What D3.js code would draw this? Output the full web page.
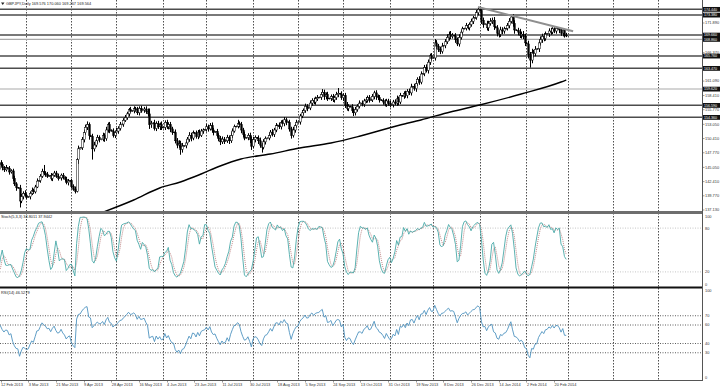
<!DOCTYPE html>
<html><head><meta charset="utf-8">
<script src="https://cdn.jsdelivr.net/npm/d3@7"></script>
<style>
html,body{margin:0;padding:0;background:#fff;overflow:hidden;}
svg{display:block;}
text{font-family:"Liberation Sans",Arial,sans-serif;}
</style></head><body>
<svg id="chart" width="720" height="387"></svg>
<script>
// ---------------- DATA ----------------
const symbolTitle = "GBPJPY,Daily 169.576 170.060 169.267 169.564";
const stochTitle = "Stoch(5,3,3) 34.8011 37.9442";
const rsiTitle = "RSI(14) 46.5279";
const firstBarDate = "2013-01-24";   // first (warm-up) bar, Sun-Fri daily bars
const warmupBars = 16;               // bars before the first visible bar (12 Feb 2013)

const closes = [
 143.8,143.3,143.4,142.8,143.0,143.5,143.7,145.6,145.7,145.2,146.9,145.4,145.1,144.6,144.7,145.9,
 145.6,145.0,144.6,145.0,144.9,144.2,144.4,143.0,142.0,141.3,141.2,138.8,139.6,140.2,139.9,139.5,
 139.6,140.2,140.8,140.5,141.4,142.5,142.6,143.4,144.3,144.0,143.8,143.4,143.5,143.0,143.6,144.0,
 143.4,143.0,143.1,143.6,143.1,142.8,142.2,142.5,142.6,141.5,141.0,140.6,146.5,148.5,148.7,150.2,
 151.5,152.5,153.0,151.0,150.8,148.5,149.2,150.0,150.6,150.2,150.3,151.0,150.4,152.0,153.0,152.0,
 151.8,151.0,151.5,151.8,152.3,153.0,153.1,153.8,154.3,155.0,155.8,155.5,155.6,156.0,155.8,155.2,
 156.0,155.6,155.7,155.9,155.4,155.0,153.0,153.2,153.3,152.3,153.2,152.6,153.0,152.4,152.5,153.4,
 152.6,153.0,152.2,151.6,151.5,150.0,149.2,149.5,148.4,149.0,149.1,149.6,150.3,151.0,150.5,151.5,
 151.4,150.8,151.6,151.0,151.8,152.0,152.1,152.6,152.2,152.8,152.0,151.6,151.7,151.0,150.4,149.8,
 150.3,149.9,150.0,150.6,150.0,151.0,151.8,152.6,152.7,153.2,153.0,152.0,151.2,150.5,150.6,151.0,
 150.2,149.0,150.2,150.6,150.5,150.0,149.2,148.8,149.8,150.4,150.5,151.0,151.6,151.2,152.0,152.8,
 152.9,152.6,153.4,153.2,153.9,153.5,153.4,152.2,151.0,152.0,152.8,153.4,153.5,154.6,155.2,155.6,
 156.4,156.0,156.1,157.0,157.5,157.2,157.8,158.0,158.1,158.6,159.0,158.2,158.6,157.8,157.9,158.2,
 157.6,158.0,158.6,158.8,158.7,158.0,158.4,156.6,156.0,156.4,156.3,155.6,155.2,155.8,156.4,157.0,
 157.0,156.8,157.4,157.6,158.0,157.5,157.6,158.2,158.9,158.2,158.0,157.6,157.5,157.2,156.8,157.4,
 157.0,156.6,156.7,157.2,157.0,157.8,157.2,158.4,158.3,158.8,158.4,159.2,158.9,160.0,160.1,159.7,
 160.6,161.4,160.9,162.4,162.5,163.6,163.1,164.6,165.8,165.3,165.4,168.2,167.6,167.0,166.6,167.6,
 167.7,168.4,169.2,169.8,169.4,169.6,169.5,168.8,168.0,169.2,170.2,170.8,170.9,171.4,171.0,171.6,
 172.2,172.8,172.9,173.8,174.4,174.2,172.4,171.6,171.7,171.0,171.8,172.2,172.4,171.2,171.0,170.0,
 169.8,170.6,170.4,170.8,170.9,171.4,172.2,173.0,171.8,170.6,170.5,170.2,169.6,169.8,169.4,168.2,
 168.0,166.0,165.0,166.4,166.2,167.0,167.1,168.2,168.8,169.4,169.0,169.8,169.9,170.4,170.2,170.8,
 170.4,170.9,170.9,170.6,170.0,170.6,169.58,169.564
];
const wickUp = [
 0.4,0.3,0.1,0.4,0.5,0.3,0.4,0.6,0.1,0.5,0.7,0.4,0.3,0.5,0.1,0.4,
 0.5,0.4,0.3,0.5,0.1,0.4,0.3,0.4,0.5,0.3,0.1,0.6,0.5,0.4,0.6,0.3,
 0.1,0.4,0.5,0.3,0.4,0.5,0.1,0.4,0.5,1.2,0.3,0.4,0.1,0.5,0.3,0.4,
 0.4,0.5,0.1,0.3,0.4,0.3,0.5,0.4,0.1,0.3,0.4,0.5,0.3,0.6,0.1,0.5,
 0.6,0.5,0.6,0.4,0.1,0.5,0.6,0.4,0.5,0.4,0.1,0.5,0.4,0.6,0.4,0.5,
 0.1,0.5,0.4,0.6,0.4,0.5,0.1,0.4,0.5,0.4,0.3,0.5,0.1,0.4,0.3,0.5,
 0.4,0.5,0.1,0.4,0.5,0.6,1.0,0.5,0.1,0.6,0.4,0.5,0.4,0.6,0.1,0.4,
 0.5,0.4,0.5,0.4,0.1,0.6,0.5,0.6,0.5,0.6,0.1,0.5,0.4,0.6,0.5,0.4,
 0.1,0.5,0.4,0.5,0.4,0.3,0.1,0.5,0.4,0.5,0.6,0.4,0.1,0.5,0.4,0.5,
 0.5,0.4,0.1,0.5,0.4,0.6,0.5,0.4,0.1,0.7,0.4,0.5,0.4,0.5,0.1,0.4,
 0.5,0.6,0.5,0.4,0.1,0.5,0.6,0.4,0.5,0.4,0.1,0.5,0.4,0.6,0.4,0.5,
 0.1,0.5,0.4,0.5,0.5,0.4,0.1,0.5,0.4,0.6,0.4,0.5,0.1,0.4,0.5,0.4,
 0.5,0.4,0.1,0.5,0.4,0.5,0.4,0.5,0.1,0.4,0.6,0.5,0.4,0.5,0.1,0.4,
 0.5,0.4,0.5,1.0,0.1,0.5,0.4,0.5,0.6,0.4,0.1,0.5,0.4,0.5,0.4,0.5,
 0.1,0.5,0.4,0.5,0.4,0.5,0.1,0.5,0.4,0.5,0.4,0.5,0.1,0.4,0.5,0.4,
 0.4,0.5,0.1,0.4,0.5,0.6,0.4,0.5,0.1,0.4,0.5,0.4,0.5,0.6,0.1,0.5,
 0.5,0.4,0.6,0.5,0.1,0.5,0.6,0.5,0.4,0.5,0.1,0.7,0.5,0.4,0.5,0.6,
 0.1,0.5,0.6,0.5,0.6,0.4,0.1,0.5,0.4,0.6,0.5,0.4,0.1,0.5,0.3,0.4,
 0.5,0.4,0.1,0.5,0.46,0.2,0.2,0.5,0.1,0.6,0.5,0.6,0.5,0.6,0.1,0.5,
 0.5,0.6,0.5,0.4,0.1,0.5,0.6,0.3,0.5,0.6,0.1,0.5,0.6,0.5,0.6,0.5,
 0.1,0.6,0.5,0.7,0.5,0.6,0.1,0.5,0.6,0.5,0.6,0.5,0.1,0.5,0.6,0.3,
 0.3,0.2,0.1,0.1,0.3,0.1,0.2,0.48
];
const wickDown = [
 0.3,0.5,0.1,0.4,0.3,0.4,0.3,0.2,0.1,0.4,0.3,0.6,0.4,0.3,0.1,0.3,
 0.4,0.5,0.4,0.3,0.1,0.5,0.3,0.5,0.4,0.6,0.1,1.2,0.4,0.5,0.3,0.4,
 0.1,0.5,0.3,0.4,0.3,0.2,0.1,0.4,0.3,0.4,0.5,0.3,0.1,0.4,0.5,0.3,
 0.3,0.4,0.1,0.5,0.3,0.4,0.3,0.5,0.1,0.4,0.3,0.4,0.2,0.8,0.1,0.4,
 0.5,0.4,0.5,0.8,0.1,2.0,0.5,0.4,0.6,0.5,0.1,0.4,0.6,0.4,0.5,0.6,
 0.1,0.4,0.5,0.3,0.5,0.4,0.1,0.5,0.3,0.4,0.5,0.3,0.1,0.5,0.4,0.4,
 0.5,0.4,0.1,0.5,0.4,0.5,0.8,0.6,0.1,0.4,0.5,0.4,0.6,0.4,0.1,0.5,
 0.4,0.5,0.6,0.5,0.1,0.5,0.6,0.5,1.0,0.6,0.1,0.5,0.4,0.5,0.6,0.4,
 0.1,0.4,0.5,0.4,0.3,0.5,0.1,0.4,0.5,0.3,0.5,0.6,0.1,0.4,0.5,0.6,
 0.4,0.5,0.1,0.4,0.6,0.4,0.5,0.3,0.1,0.4,0.5,0.6,0.5,0.4,0.1,0.5,
 0.6,0.7,0.4,0.5,0.1,0.6,0.5,1.0,0.4,0.5,0.1,0.4,0.5,0.4,0.5,0.4,
 0.1,0.4,0.5,0.4,0.5,0.6,0.1,0.5,0.6,0.4,0.5,0.4,0.1,0.5,0.4,0.5,
 0.4,0.5,0.1,0.4,0.5,0.4,0.5,0.4,0.1,0.5,0.4,0.6,0.5,0.4,0.1,0.5,
 0.4,0.5,0.4,0.5,0.1,0.4,0.6,0.5,0.4,0.5,0.1,0.4,0.6,0.5,0.4,0.4,
 0.1,0.4,0.5,0.4,0.5,0.4,0.1,0.4,0.5,0.6,0.4,0.5,0.1,0.5,0.4,0.5,
 0.5,0.4,0.1,0.5,0.4,0.5,0.6,0.4,0.1,0.5,0.4,0.5,0.4,0.5,0.1,0.4,
 0.6,0.4,0.5,0.4,0.1,0.5,0.4,0.6,0.5,0.4,0.1,0.5,0.6,0.5,0.5,0.4,
 0.1,0.5,0.4,0.6,0.5,0.4,0.1,0.6,0.4,0.5,0.4,0.5,0.1,0.4,0.3,0.5,
 0.4,0.5,0.1,0.4,0.5,0.2,0.7,0.6,0.1,0.5,0.6,0.4,0.5,0.6,0.1,0.6,
 0.6,0.5,0.6,0.5,0.1,0.4,0.5,0.4,0.6,0.7,0.1,0.6,0.5,0.6,0.5,0.6,
 0.1,0.7,1.4,0.6,0.7,0.5,0.1,0.6,0.5,0.6,0.5,0.4,0.1,0.6,0.5,0.4,
 0.4,0.5,0.1,0.6,0.5,0.6,0.4,0.3
];

const tickLabels = ["12 Feb 2013","3 Mar 2013","21 Mar 2013","9 Apr 2013","28 Apr 2013","16 May 2013",
 "4 Jun 2013","23 Jun 2013","11 Jul 2013","30 Jul 2013","18 Aug 2013","5 Sep 2013","24 Sep 2013",
 "13 Oct 2013","31 Oct 2013","19 Nov 2013","8 Dec 2013","26 Dec 2013","14 Jan 2014","2 Feb 2014","20 Feb 2014"];
const barsPerTick = 16;

const priceTicks = [137.130,139.770,142.410,145.050,147.770,150.410,153.050,155.770,158.410,161.090,163.730,166.370,169.010,171.890];
const darkLevels = [174.440,173.380,169.660,165.760,163.470,156.590,154.360];
const lightLevels = [168.860,159.620];

// 200-day moving average, read at visible bar indices
const maIndex = [58,77,92,104,116,127,139,156,173,191,208,231,243,260,277,301,324,327];
const maValue = [136.57,138.99,141.22,142.34,143.82,145.31,146.61,147.54,148.66,149.59,150.89,152.93,153.86,155.35,156.65,158.69,160.92,161.30];

// falling trendline (visible bar index, price)
const trendIndex = [276,331];
const trendValue = [174.86,170.35];

const stochLevels = [80,20];
const stochAxis = [100,80,20,0];
const rsiLevels = [70,60,40,30];
const rsiAxis = [100,70,60,40,30,0];

// ---------------- LAYOUT ----------------
const svg = d3.select("#chart");
const plotR = 702;
const x = d3.scaleLinear().domain([0,400]).range([0.5,692.5]);
const y = d3.scaleLinear().domain([137.13,171.89]).range([210,23]);
const yS = d3.scaleLinear().domain([0,100]).range([286.5,213.5]);
const yR = d3.scaleLinear().domain([0,100]).range([380.5,288]);
const FS = 3.9;

const defs = svg.append("defs");
defs.append("clipPath").attr("id","cMain").append("rect").attr("x",0).attr("y",0).attr("width",plotR).attr("height",211);
defs.append("clipPath").attr("id","cStoch").append("rect").attr("x",0).attr("y",214).attr("width",plotR).attr("height",72);
defs.append("clipPath").attr("id","cRsi").append("rect").attr("x",0).attr("y",289).attr("width",plotR).attr("height",91);

// dates of bars (Sun-Fri) including future slots
const dates = [];
{ const d = new Date(firstBarDate+"T00:00:00Z");
  while (dates.length < closes.length + 120) { if (d.getUTCDay() !== 6) dates.push(new Date(d)); d.setUTCDate(d.getUTCDate()+1); } }
const xi = k => x(k - warmupBars);

// month separators
const monthStarts = [];
for (let k=1;k<dates.length;k++) if (dates[k].getUTCMonth() !== dates[k-1].getUTCMonth()) monthStarts.push(k);
svg.append("g").selectAll("line").data(monthStarts.filter(k => xi(k) > 0 && xi(k) < plotR)).join("line")
  .attr("x1",k=>Math.round(xi(k))+0.5).attr("x2",k=>Math.round(xi(k))+0.5)
  .attr("y1",0).attr("y2",380).attr("stroke","#222").attr("stroke-width",0.8).attr("stroke-dasharray","1.5,1.5");

// ---------- MAIN PANEL ----------
const gMain = svg.append("g").attr("clip-path","url(#cMain)");
gMain.selectAll("line.dl").data(darkLevels).join("line").attr("class","dl")
  .attr("x1",0).attr("x2",plotR).attr("y1",d=>y(d)).attr("y2",d=>y(d)).attr("stroke","#4d4d4d").attr("stroke-width",1.5);
gMain.selectAll("line.ll").data(lightLevels).join("line").attr("class","ll")
  .attr("x1",0).attr("x2",plotR).attr("y1",d=>y(d)).attr("y2",d=>y(d)).attr("stroke","#a9a9a9").attr("stroke-width",1.2);

const bars = closes.map((c,k) => { const o = k>0 ? closes[k-1] : c;
  return {k, o, c, h: Math.max(o,c)+wickUp[k], l: Math.min(o,c)-wickDown[k]}; });
const vis = bars.filter(b => xi(b.k) > -3);
gMain.selectAll("line.wick").data(vis).join("line").attr("class","wick")
  .attr("x1",b=>Math.round(xi(b.k))+0.5).attr("x2",b=>Math.round(xi(b.k))+0.5)
  .attr("y1",b=>y(b.h)).attr("y2",b=>y(b.l)).attr("stroke","#000").attr("stroke-width",1);
gMain.selectAll("rect.body").data(vis).join("rect").attr("class","body")
  .attr("x",b=>Math.round(xi(b.k))-0.3).attr("width",1.6)
  .attr("y",b=>y(Math.max(b.o,b.c))).attr("height",b=>Math.max(0.6,Math.abs(y(b.o)-y(b.c))))
  .attr("fill",b=>b.c>=b.o?"#fff":"#000").attr("stroke","#000").attr("stroke-width",0.5);

// moving average
gMain.append("path").datum(maIndex.map((v,i)=>[v,maValue[i]]))
  .attr("d",d3.line().x(d=>x(d[0])).y(d=>y(d[1])).curve(d3.curveMonotoneX))
  .attr("fill","none").attr("stroke","#000").attr("stroke-width",1.4);
// trendline
gMain.append("path").datum(trendIndex.map((v,i)=>[v,trendValue[i]]))
  .attr("d",d3.line().x(d=>x(d[0])).y(d=>y(d[1])))
  .attr("fill","none").attr("stroke","#8f8f8f").attr("stroke-width",2);

// title
svg.append("path").attr("d","M1,2.5 L4.5,2.5 L2.75,5 Z").attr("fill","#222");
svg.append("text").attr("x",6).attr("y",5).attr("font-size",FS).attr("fill","#222").text(symbolTitle);

// ---------- INDICATORS ----------
const N = bars.length;
const main = new Array(N).fill(null), signal = new Array(N).fill(null);
const LL = [], HH = [];
for (let k=0;k<N;k++){ const s=Math.max(0,k-4); let lo=Infinity,hi=-Infinity;
  for(let j=s;j<=k;j++){lo=Math.min(lo,bars[j].l);hi=Math.max(hi,bars[j].h);} LL[k]=lo;HH[k]=hi; }
for (let k=6;k<N;k++){ let num=0,den=0; for(let j=k-2;j<=k;j++){num+=bars[j].c-LL[j];den+=HH[j]-LL[j];}
  main[k]= den>0? 100*num/den : 50; }
for (let k=8;k<N;k++){ signal[k]=(main[k]+main[k-1]+main[k-2])/3; }
const rsi = new Array(N).fill(null);
{ let ag=0, al=0; for(let k=1;k<=14;k++){const ch=closes[k]-closes[k-1]; if(ch>0)ag+=ch; else al-=ch;}
  ag/=14; al/=14; rsi[14]= al===0?100:100-100/(1+ag/al);
  for(let k=15;k<N;k++){const ch=closes[k]-closes[k-1]; ag=(ag*13+Math.max(ch,0))/14; al=(al*13+Math.max(-ch,0))/14;
    rsi[k]= al===0?100:100-100/(1+ag/al);} }

const gS = svg.append("g").attr("clip-path","url(#cStoch)");
gS.selectAll("line").data(stochLevels).join("line").attr("x1",0).attr("x2",plotR)
  .attr("y1",d=>yS(d)).attr("y2",d=>yS(d)).attr("stroke","#b8b8b8").attr("stroke-width",0.8).attr("stroke-dasharray","1,1.5");
const lineS = d3.line().defined(d=>d[1]!==null).x(d=>xi(d[0])).y(d=>yS(d[1]));
gS.append("path").datum(signal.map((v,k)=>[k,v]).filter(d=>xi(d[0])>-5))
  .attr("d",lineS).attr("fill","none").attr("stroke","#b06a6a").attr("stroke-width",0.8).attr("stroke-dasharray","1,1");
gS.append("path").datum(main.map((v,k)=>[k,v]).filter(d=>xi(d[0])>-5))
  .attr("d",lineS).attr("fill","none").attr("stroke","#4aa9a8").attr("stroke-width",0.9);

const gR = svg.append("g").attr("clip-path","url(#cRsi)");
gR.selectAll("line").data(rsiLevels).join("line").attr("x1",0).attr("x2",plotR)
  .attr("y1",d=>yR(d)).attr("y2",d=>yR(d)).attr("stroke","#333").attr("stroke-width",0.8).attr("stroke-dasharray","1,1.5");
gR.append("path").datum(rsi.map((v,k)=>[k,v]).filter(d=>xi(d[0])>-5))
  .attr("d",d3.line().defined(d=>d[1]!==null).x(d=>xi(d[0])).y(d=>yR(d[1])))
  .attr("fill","none").attr("stroke","#4e93bf").attr("stroke-width",0.9);

// separators and frame
svg.append("rect").attr("x",0).attr("y",211).attr("width",plotR+1).attr("height",3).attr("fill","#6e6e6e");
svg.append("rect").attr("x",0).attr("y",286.5).attr("width",plotR+1).attr("height",2).attr("fill","#111");
svg.append("line").attr("x1",plotR+0.5).attr("x2",plotR+0.5).attr("y1",0).attr("y2",381).attr("stroke","#555").attr("stroke-width",1);
svg.append("line").attr("x1",0).attr("x2",plotR+1).attr("y1",380.5).attr("y2",380.5).attr("stroke","#555").attr("stroke-width",1);

svg.append("text").attr("x",1).attr("y",217.8).attr("font-size",FS).attr("fill","#222").text(stochTitle);
svg.append("text").attr("x",1).attr("y",293.5).attr("font-size",FS).attr("fill","#222").text(rsiTitle);

// ---------- RIGHT AXIS ----------
const boxes = darkLevels.concat(lightLevels);
const shownTicks = priceTicks.filter(t => d3.min(boxes, b => Math.abs(y(b) - y(t))) > 3);
const gA = svg.append("g");
gA.selectAll("text.pt").data(shownTicks).join("text").attr("class","pt")
  .attr("x",705).attr("y",d=>y(d)+1.3).attr("font-size",FS).attr("fill","#333").text(d=>d.toFixed(3));
gA.selectAll("line.pt").data(priceTicks).join("line").attr("class","pt")
  .attr("x1",plotR).attr("x2",plotR+2.5).attr("y1",d=>y(d)).attr("y2",d=>y(d)).attr("stroke","#555").attr("stroke-width",0.6);
gA.selectAll("rect.bx").data(boxes).join("rect").attr("class","bx")
  .attr("x",plotR+1).attr("y",d=>y(d)-2.3).attr("width",17).attr("height",4.8).attr("fill","#111");
gA.selectAll("text.bx").data(boxes).join("text").attr("class","bx")
  .attr("x",704).attr("y",d=>y(d)+1.3).attr("font-size",3.6).attr("fill","#fff").text(d=>d.toFixed(3));
gA.selectAll("text.sa").data(stochAxis).join("text").attr("class","sa")
  .attr("x",705).attr("y",d=>Math.min(285,Math.max(216.5,yS(d)))+1.4).attr("font-size",FS).attr("fill","#333").text(d=>d);
gA.selectAll("text.ra").data(rsiAxis).join("text").attr("class","ra")
  .attr("x",705).attr("y",d=>Math.min(378,Math.max(291,yR(d)))+1.4).attr("font-size",FS).attr("fill","#333").text(d=>d);

// ---------- DATE AXIS ----------
svg.append("g").selectAll("text").data(tickLabels).join("text")
  .attr("x",(d,i)=>x(i*barsPerTick)+0.5).attr("y",385.6).attr("font-size",FS).attr("fill","#333").text(d=>d);
svg.append("g").selectAll("line").data(tickLabels).join("line")
  .attr("x1",(d,i)=>Math.round(x(i*barsPerTick))+0.5).attr("x2",(d,i)=>Math.round(x(i*barsPerTick))+0.5)
  .attr("y1",380.5).attr("y2",382.5).attr("stroke","#555").attr("stroke-width",0.6);
</script>
</body></html>
